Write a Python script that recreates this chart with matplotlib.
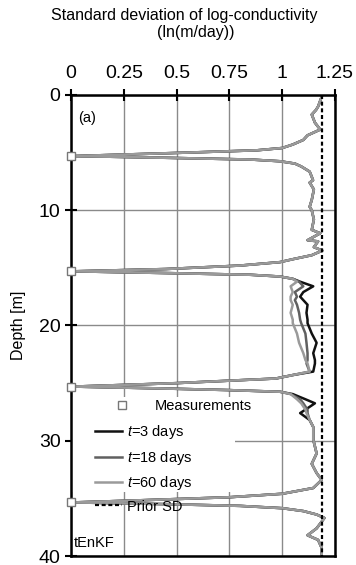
import numpy as np
import matplotlib
matplotlib.use('Agg')
import matplotlib.pyplot as plt
from matplotlib.patches import Rectangle

plt.rcParams['font.family'] = ['Liberation Sans', 'DejaVu Sans']
plt.rcParams['mathtext.fontset'] = 'custom'
plt.rcParams['mathtext.rm'] = 'Liberation Sans'
plt.rcParams['mathtext.it'] = 'Liberation Sans:italic'

# depth [m] shared by the three profiles
depth = [0, 0.5, 1.0, 1.3, 1.7, 2.4, 3.0, 3.5, 3.9, 4.3, 4.6, 4.8, 5.0, 5.15, 5.3,
         5.45, 5.6, 5.75, 5.95, 6.2, 6.65, 7.1, 7.4, 7.6, 8.2, 9.1, 9.7, 10.0, 10.8,
         11.7, 12.0, 12.6, 12.7, 13.2, 13.5, 13.9, 14.25, 14.5, 14.8, 15.1, 15.3,
         15.45, 15.6, 15.75, 15.95, 16.2, 16.6, 17.1, 17.5, 17.8, 18.2, 18.9, 19.5,
         19.8, 20.7, 21.5, 22.4, 23.0, 23.3, 24.0, 24.3, 24.6, 25.0, 25.3, 25.45,
         25.6, 25.75, 25.95, 26.4, 26.75, 27.3, 27.6, 28.2, 28.8, 29.9, 31.1, 32.0,
         32.8, 33.4, 34.1, 34.6, 34.9, 35.15, 35.35, 35.5, 35.65, 35.85, 36.1, 36.4,
         36.7, 37.6, 38.2, 38.6, 39.3, 40]

sd_60 = [1.19, 1.18, 1.17, 1.16, 1.14, 1.155, 1.18, 1.12, 1.10, 1.05, 1.0, 0.88, 0.55, 0.28, 0.01,
         0.45, 0.85, 0.99, 1.06, 1.09, 1.13, 1.14, 1.146, 1.13, 1.15, 1.14, 1.13, 1.14, 1.15,
         1.14, 1.18, 1.12, 1.17, 1.15, 1.19, 1.14, 1.05, 0.99, 0.80, 0.45, 0.01,
         0.45, 0.85, 0.99, 1.05, 1.07, 1.04, 1.05, 1.04, 1.04, 1.05, 1.04, 1.05,
         1.05, 1.07, 1.08, 1.10, 1.11, 1.12, 1.13, 1.05, 0.97, 0.50, 0.01, 0.40,
         0.74, 0.99, 1.04, 1.07, 1.09, 1.11, 1.115, 1.13, 1.147, 1.147, 1.163, 1.14,
         1.163, 1.187, 1.147, 1.0, 0.75, 0.35, 0.01, 0.45, 0.80, 1.0, 1.10, 1.163,
         1.2, 1.163, 1.12, 1.17, 1.187, 1.187]

sd_18 = [1.19, 1.18, 1.17, 1.16, 1.14, 1.155, 1.18, 1.12, 1.10, 1.05, 1.0, 0.88, 0.55, 0.28, 0.01,
         0.45, 0.85, 0.99, 1.06, 1.09, 1.13, 1.14, 1.146, 1.13, 1.15, 1.14, 1.13, 1.14, 1.15,
         1.14, 1.18, 1.12, 1.17, 1.15, 1.19, 1.14, 1.05, 0.99, 0.80, 0.45, 0.01,
         0.45, 0.85, 0.99, 1.05, 1.08, 1.10, 1.06, 1.07, 1.06, 1.07, 1.08, 1.085,
         1.09, 1.11, 1.115, 1.12, 1.12, 1.115, 1.13, 1.05, 0.97, 0.50, 0.01, 0.40,
         0.74, 0.99, 1.04, 1.085, 1.10, 1.12, 1.12, 1.13, 1.147, 1.147, 1.163, 1.14,
         1.163, 1.187, 1.147, 1.0, 0.75, 0.35, 0.01, 0.45, 0.80, 1.0, 1.10, 1.163,
         1.2, 1.163, 1.12, 1.17, 1.187, 1.187]

sd_3 = [1.19, 1.18, 1.17, 1.16, 1.14, 1.155, 1.18, 1.12, 1.10, 1.05, 1.0, 0.88, 0.55, 0.28, 0.01,
        0.45, 0.85, 0.99, 1.06, 1.09, 1.13, 1.14, 1.146, 1.13, 1.15, 1.14, 1.13, 1.14, 1.15,
        1.14, 1.18, 1.12, 1.17, 1.15, 1.19, 1.14, 1.05, 0.99, 0.80, 0.45, 0.01,
        0.45, 0.85, 0.99, 1.05, 1.085, 1.147, 1.10, 1.085, 1.10, 1.12, 1.115, 1.12,
        1.12, 1.14, 1.163, 1.147, 1.155, 1.155, 1.147, 1.05, 0.97, 0.50, 0.01, 0.40,
        0.74, 0.99, 1.05, 1.11, 1.155, 1.11, 1.085, 1.13, 1.147, 1.147, 1.163, 1.14,
        1.163, 1.187, 1.147, 1.0, 0.75, 0.35, 0.01, 0.45, 0.80, 1.0, 1.10, 1.163,
        1.2, 1.163, 1.12, 1.17, 1.187, 1.187]

meas_depth = [5.3, 15.3, 25.3, 35.35]
meas_sd = [0.0, 0.0, 0.0, 0.0]
prior_sd = 1.19

fig = plt.figure(figsize=(3.56, 5.65), dpi=100)
ax = fig.add_axes([0.1994, 0.0159, 0.7416, 0.816])

ax.grid(True, color='#8a8a8a', lw=1.0)
ax.set_axisbelow(True)
# white legend backdrop hiding the grid (as in the original figure)
ax.add_patch(Rectangle((0, 0.139), 0.62, 0.206, transform=ax.transAxes,
                       facecolor='white', edgecolor='none', zorder=1))

meas, = ax.plot(meas_sd, meas_depth, ls='none', marker='s', ms=6, mfc='white',
                mec='#777777', mew=1.0, clip_on=False, zorder=5)
l3, = ax.plot(sd_3, depth, color='#111111', lw=1.8)
l18, = ax.plot(sd_18, depth, color='#606060', lw=1.8)
l60, = ax.plot(sd_60, depth, color='#9a9a9a', lw=1.8)
lp, = ax.plot([prior_sd, prior_sd], [0, 40], color='black', lw=1.6,
              ls=(0, (1.8, 1.2)))

ax.set_xlim(0, 1.25)
ax.set_ylim(40, 0)
ax.set_xticks([0, 0.25, 0.5, 0.75, 1, 1.25])
ax.set_xticklabels(['0', '0.25', '0.5', '0.75', '1', '1.25'])
ax.set_yticks([0, 10, 20, 30, 40])
ax.xaxis.tick_top()
ax.tick_params(direction='inout', length=9, width=1.5, labelsize=14, pad=3)
ax.tick_params(axis='x', pad=5)
for s in ax.spines.values():
    s.set_linewidth(1.8)

ax.set_ylabel('Depth [m]', fontsize=11.5, labelpad=9)
fig.text(0.517, 0.973, 'Standard deviation of log-conductivity',
         ha='center', va='center', fontsize=11.5)
fig.text(0.55, 0.942, '(ln(m/day))', ha='center', va='center', fontsize=11.5)

ax.text(0.035, 2.0, '(a)', fontsize=10.5, va='center')
ax.text(0.012, 38.9, 'tEnKF', fontsize=10.5, va='center')

leg1 = ax.legend([meas], ['Measurements'], loc='center left',
                 bbox_to_anchor=(0.1655, 0.325), fontsize=10.5, frameon=False,
                 borderpad=0, borderaxespad=0, handlelength=1.0,
                 handletextpad=1.76, numpoints=1)
ax.add_artist(leg1)
ax.legend([l3, l18, l60, lp], ['$t$=3 days', '$t$=18 days', '$t$=60 days', 'Prior SD'],
          loc='center left', bbox_to_anchor=(0.091, 0.19), fontsize=10.5,
          frameon=False, borderpad=0, borderaxespad=0, handlelength=1.85,
          labelspacing=0.51, handletextpad=0.34)

fig.savefig('out.png', dpi=100)
